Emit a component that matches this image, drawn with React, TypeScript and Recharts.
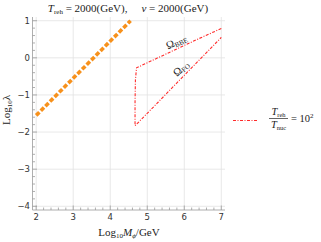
import { LineChart, Line, XAxis, YAxis, ReferenceLine, ReferenceDot } from "recharts";

// Log10 lambda vs Log10 M_phi
const orangeLine = [
  { x: 2.0, y: -1.55 },
  { x: 4.55, y: 1.0 },
];

// dot-dashed contour, BBE branch -> left edge -> FO branch
const redContour = [
  { x: 7.0, y: 0.79 },
  { x: 6.4, y: 0.52 },
  { x: 5.8, y: 0.24 },
  { x: 5.2, y: -0.04 },
  { x: 4.71, y: -0.27 },
  { x: 4.68, y: -0.6 },
  { x: 4.67, y: -1.2 },
  { x: 4.67, y: -1.83 },
  { x: 5.3, y: -1.19 },
  { x: 6.0, y: -0.47 },
  { x: 6.5, y: 0.04 },
  { x: 7.0, y: 0.55 },
];

const xTicks = [
  2, 2.2, 2.4, 2.6, 2.8, 3, 3.2, 3.4, 3.6, 3.8, 4, 4.2, 4.4, 4.6, 4.8, 5, 5.2, 5.4, 5.6, 5.8, 6, 6.2, 6.4,
  6.6, 6.8, 7,
];
const yTicks = [
  -4, -3.8, -3.6, -3.4, -3.2, -3, -2.8, -2.6, -2.4, -2.2, -2, -1.8, -1.6, -1.4, -1.2, -1, -0.8, -0.6, -0.4,
  -0.2, 0, 0.2, 0.4, 0.6, 0.8, 1,
];
const xGrid = [2, 3, 4, 5, 6, 7];
const yGrid = [-4, -3, -2, -1, 0, 1];

const serif = "'Liberation Serif', 'Times New Roman', serif";
const sans = "'DejaVu Sans', sans-serif";
const frame = "#9a9a9a";
const red = "#ff2a2a";
const orange = "#f7911c";

const isMajor = (v: number) => Math.abs(v - Math.round(v)) < 1e-6;
const fmt = (v: number) => (Math.round(v) < 0 ? "\u2212" + Math.abs(Math.round(v)) : String(Math.round(v)));

const BottomTick = ({ x, y, payload }: any) => {
  const major = isMajor(payload.value);
  return (
    <g>
      <line x1={x} y1={y} x2={x} y2={y - (major ? 4.5 : 2.5)} stroke={frame} strokeWidth={0.8} />
      {major && (
        <text x={x} y={y + 10} textAnchor="middle" fontSize={8.5} fontFamily={sans} fill="#333">
          {fmt(payload.value)}
        </text>
      )}
    </g>
  );
};

const TopTick = ({ x, y, payload }: any) => {
  const major = isMajor(payload.value);
  return <line x1={x} y1={y} x2={x} y2={y + (major ? 4.5 : 2.5)} stroke={frame} strokeWidth={0.8} />;
};

const LeftTick = ({ x, y, payload }: any) => {
  const major = isMajor(payload.value);
  return (
    <g>
      <line x1={x} y1={y} x2={x + (major ? 4.5 : 2.5)} y2={y} stroke={frame} strokeWidth={0.8} />
      {major && (
        <text x={x - 2.5} y={y + 3} textAnchor="end" fontSize={8.5} fontFamily={sans} fill="#333">
          {fmt(payload.value)}
        </text>
      )}
    </g>
  );
};

const RightTick = ({ x, y, payload }: any) => {
  const major = isMajor(payload.value);
  return <line x1={x} y1={y} x2={x - (major ? 4.5 : 2.5)} y2={y} stroke={frame} strokeWidth={0.8} />;
};

const omegaLabel = (sub: string, angle: number) => (props: any) => {
  const { cx, cy } = props;
  return (
    <text
      x={cx}
      y={cy}
      textAnchor="middle"
      dominantBaseline="middle"
      fontFamily={serif}
      fontSize={11}
      fill="#222"
      transform={`rotate(${angle} ${cx} ${cy})`}
    >
      Ω
      <tspan fontSize={7} dy={2}>
        {sub}
      </tspan>
    </text>
  );
};

export default function App() {
  return (
    <div style={{ position: "absolute", left: 0, top: 0, width: 321, height: 242, background: "#fff" }}>
      <LineChart width={321} height={242} margin={{ top: 17, right: 96, bottom: 12, left: 0 }}>
        <XAxis
          xAxisId="b"
          type="number"
          dataKey="x"
          domain={[1.9, 7.1]}
          ticks={xTicks}
          interval={0}
          tickSize={0}
          tickMargin={0}
          tick={<BottomTick />}
          tickLine={false}
          axisLine={{ stroke: frame, strokeWidth: 0.8 }}
          height={20}
          allowDataOverflow
        />
        <XAxis
          xAxisId="t"
          orientation="top"
          type="number"
          dataKey="x"
          domain={[1.9, 7.1]}
          ticks={xTicks}
          interval={0}
          tickSize={0}
          tickMargin={0}
          tick={<TopTick />}
          tickLine={false}
          axisLine={{ stroke: frame, strokeWidth: 0.8 }}
          height={0}
          allowDataOverflow
        />
        <YAxis
          yAxisId="l"
          type="number"
          domain={[-4.1, 1.1]}
          ticks={yTicks}
          interval={0}
          tickSize={0}
          tickMargin={0}
          tick={<LeftTick />}
          tickLine={false}
          axisLine={{ stroke: frame, strokeWidth: 0.8 }}
          width={32.5}
          allowDataOverflow
        />
        <YAxis
          yAxisId="r"
          orientation="right"
          type="number"
          domain={[-4.1, 1.1]}
          ticks={yTicks}
          interval={0}
          tickSize={0}
          tickMargin={0}
          tick={<RightTick />}
          tickLine={false}
          axisLine={{ stroke: frame, strokeWidth: 0.8 }}
          width={0}
          allowDataOverflow
        />
        {xGrid.map((v) => (
          <ReferenceLine key={"gx" + v} x={v} xAxisId="b" yAxisId="l" stroke="#e2e2e2" strokeWidth={0.8} />
        ))}
        {yGrid.map((v) => (
          <ReferenceLine key={"gy" + v} y={v} xAxisId="b" yAxisId="l" stroke="#e2e2e2" strokeWidth={0.8} />
        ))}
        <Line
          xAxisId="t"
          yAxisId="r"
          data={orangeLine}
          dataKey="y"
          stroke="none"
          dot={false}
          legendType="none"
          isAnimationActive={false}
        />
        <Line
          xAxisId="b"
          yAxisId="l"
          data={orangeLine}
          dataKey="y"
          type="linear"
          stroke={orange}
          strokeWidth={3.6}
          strokeDasharray="4.5 2"
          dot={false}
          legendType="none"
          isAnimationActive={false}
        />
        <Line
          xAxisId="b"
          yAxisId="l"
          data={redContour}
          dataKey="y"
          type="linear"
          stroke={red}
          strokeWidth={1.1}
          strokeDasharray="3 1.5 1 1.5"
          dot={false}
          isAnimationActive={false}
        />
        <ReferenceDot xAxisId="b" yAxisId="l" x={5.8} y={0.41} r={0} shape={omegaLabel("BBE", -25)} />
        <ReferenceDot xAxisId="b" yAxisId="l" x={5.93} y={-0.31} r={0} shape={omegaLabel("FO", -42)} />

        {/* legend */}
        <g>
          <line x1={233} y1={120.5} x2={257} y2={120.5} stroke={red} strokeWidth={1.1} strokeDasharray="3 1.5 1 1.5" />
          <text x={278.5} y={115} textAnchor="middle" fontFamily={serif} fontSize={10.5} fill="#222">
            <tspan fontStyle="italic">T</tspan>
            <tspan fontSize={6.5} dy={2}>
              reh
            </tspan>
          </text>
          <line x1={269} y1={118.5} x2={288} y2={118.5} stroke="#222" strokeWidth={0.7} />
          <text x={278.5} y={127.5} textAnchor="middle" fontFamily={serif} fontSize={10.5} fill="#222">
            <tspan fontStyle="italic">T</tspan>
            <tspan fontSize={6.5} dy={2}>
              nuc
            </tspan>
          </text>
          <text x={291} y={122} fontFamily={serif} fontSize={10.5} fill="#222">
            = 10
            <tspan fontSize={7} dy={-4}>
              2
            </tspan>
          </text>
        </g>

        <text x={128} y={12} textAnchor="middle" fontFamily={serif} fontSize={11} fill="#222">
          <tspan fontStyle="italic">T</tspan>
          <tspan fontSize={7} dy={2}>
            reh
          </tspan>
          <tspan dy={-2}> = 2000(GeV),</tspan>
          <tspan dx={14} fontStyle="italic">
            v
          </tspan>
          <tspan> = 2000(GeV)</tspan>
        </text>
        <text x={129} y={236} textAnchor="middle" fontFamily={serif} fontSize={11} fill="#222">
          Log
          <tspan fontSize={7} dy={2}>
            10
          </tspan>
          <tspan dy={-2} fontStyle="italic">
            M
          </tspan>
          <tspan fontSize={7} dy={2} fontStyle="italic">
            ϕ
          </tspan>
          <tspan dy={-2}>/GeV</tspan>
        </text>
        <text
          x={10}
          y={110}
          textAnchor="middle"
          fontFamily={serif}
          fontSize={11}
          fill="#222"
          transform="rotate(-90 10 110)"
        >
          Log
          <tspan fontSize={7} dy={2}>
            10
          </tspan>
          <tspan dy={-2}>λ</tspan>
        </text>
      </LineChart>
    </div>
  );
}
